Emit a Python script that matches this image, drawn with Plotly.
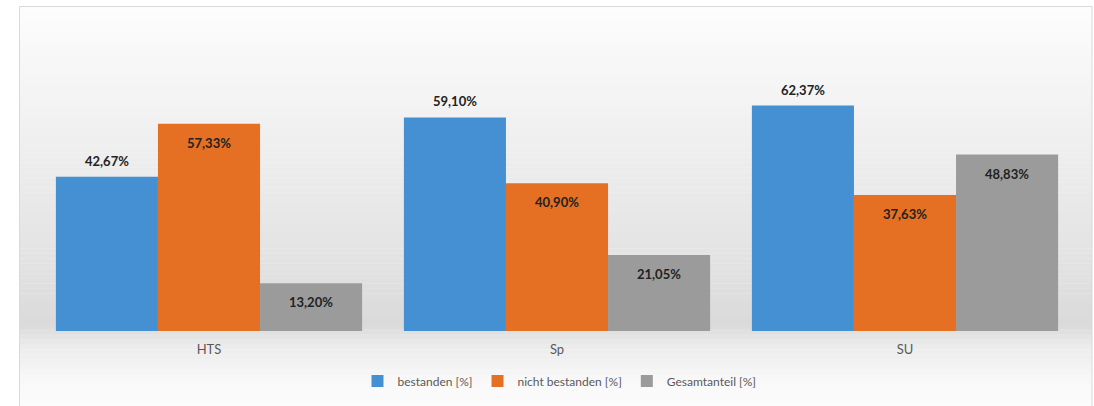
import plotly.graph_objects as go

categories = ["HTS", "Sp", "SU"]
series_names = ["bestanden [%]", "nicht bestanden [%]", "Gesamtanteil [%]"]
bestanden = [42.67, 59.10, 62.37]
nicht_bestanden = [57.33, 40.90, 37.63]
gesamtanteil = [13.20, 21.05, 48.83]
series_values = [bestanden, nicht_bestanden, gesamtanteil]
colors = ["#4590d3", "#e56f22", "#9b9b9b"]

W, H = 1094, 406
L, R, T, B = 35, 15, 78, 75
pw, ph = W - L - R, H - T - B


def px_x(p):
    return (p - L) / pw


def px_y(p):
    return (H - B - p) / ph


def fmt(v):
    return f"{v:.2f}".replace(".", ",") + "%"


fig = go.Figure()
for name, vals, col in zip(series_names, series_values, colors):
    fig.add_trace(go.Bar(
        x=categories, y=vals, name=name,
        marker=dict(color=col, line=dict(width=0)),
        hoverinfo="skip",
    ))

bargap = 0.12
bw = (1 - bargap) / 3
annotations = []
for k, vals in enumerate(series_values):
    for i, v in enumerate(vals):
        outside = (k == 0)
        annotations.append(dict(
            x=i + (k - 1) * bw, y=v, xref="x", yref="y",
            text=fmt(v), showarrow=False,
            yanchor="middle", yshift=16 if outside else -19,
            font=dict(family="Lato", size=13, color="#222222", weight="bold"),
        ))

# background gradient bands (chart area)
shapes = []
y_top_px, y_bot_px = 6, 410
n = 80
def shade(p):
    # white at top, gray near baseline, back to white at bottom
    stops = [(6, 253), (100, 243), (250, 228), (325, 218), (345, 235), (380, 248), (410, 252)]
    for (a, ca), (b, cb) in zip(stops, stops[1:]):
        if a <= p <= b:
            t = (p - a) / (b - a)
            return int(round(ca + (cb - ca) * t))
    return 252
for j in range(n):
    a = y_top_px + (y_bot_px - y_top_px) * j / n
    b = y_top_px + (y_bot_px - y_top_px) * (j + 1) / n
    c = shade((a + b) / 2)
    shapes.append(dict(
        type="rect", xref="paper", yref="paper",
        x0=px_x(19.5), x1=px_x(1092), y0=px_y(b), y1=px_y(a) + 0.001,
        fillcolor=f"rgb({c},{c},{c})", line=dict(width=0), layer="below",
    ))
shapes.append(dict(
    type="rect", xref="paper", yref="paper",
    x0=px_x(19.5), x1=px_x(1092), y0=px_y(y_bot_px), y1=px_y(6.5),
    fillcolor="rgba(0,0,0,0)", line=dict(width=1, color="#d9d9d9"), layer="below",
))

fig.update_layout(
    width=W, height=H,
    margin=dict(l=L, r=R, t=T, b=B, autoexpand=False),
    paper_bgcolor="white", plot_bgcolor="rgba(0,0,0,0)",
    barmode="group", bargap=bargap, bargroupgap=0,
    font=dict(family="Lato", size=12, color="#595959"),
    xaxis=dict(showgrid=False, zeroline=False, showline=False, ticks="",
               tickfont=dict(size=13, color="#595959"), ticklabelstandoff=9),
    yaxis=dict(range=[0, 70], visible=False, showgrid=False, zeroline=False),
    showlegend=True,
    legend=dict(orientation="h", x=px_x(559.5), xanchor="center",
                y=px_y(381), yanchor="middle",
                font=dict(size=12, color="#595959"),
                itemwidth=30, bgcolor="rgba(0,0,0,0)"),
    annotations=annotations,
    shapes=shapes,
)

fig.write_html("out.html")
